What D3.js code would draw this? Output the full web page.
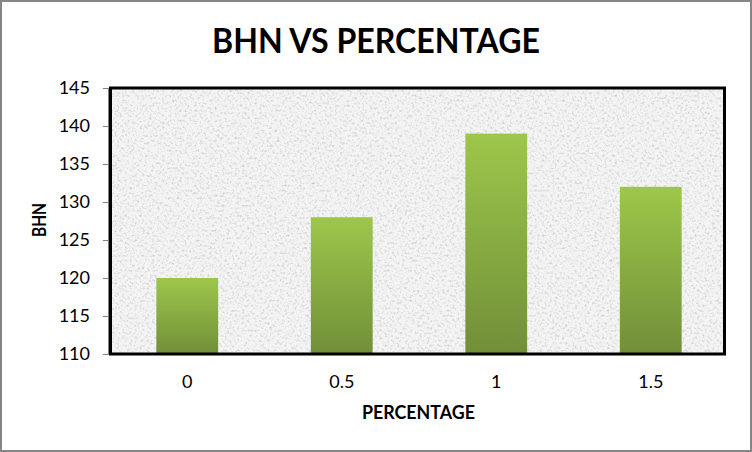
<!DOCTYPE html>
<html><head><meta charset="utf-8">
<script src="https://cdn.jsdelivr.net/npm/d3@7"></script>
<style>body{margin:0;background:#fff}svg{display:block}</style>
</head><body><svg id="c" width="752" height="452"></svg>
<script>
const categories = ["0", "0.5", "1", "1.5"];
const bhnValues = [120, 128, 139, 132];
const yTicks = [110, 115, 120, 125, 130, 135, 140, 145];
const titleText = "BHN VS PERCENTAGE";
const xTitle = "PERCENTAGE";
const yTitle = "BHN";

const svg = d3.select("#c");
const W = 752, H = 452;
const m = {l: 110, r: 724, t: 88, b: 354};
const FONT = "Lato, 'Open Sans', sans-serif";

const defs = svg.append("defs");
const f = defs.append("filter").attr("id","granite").attr("x",0).attr("y",0).attr("width","100%").attr("height","100%");
f.append("feTurbulence").attr("type","fractalNoise").attr("baseFrequency","0.4").attr("numOctaves",3).attr("seed",7).attr("result","n");
f.append("feColorMatrix").attr("in","n").attr("type","matrix")
 .attr("values","0 0 0 0 0  0 0 0 0 0  0 0 0 0 0  -1.8 0 0 0 1.0").attr("result","a");
f.append("feComponentTransfer").attr("in","a").attr("result","a2")
 .append("feFuncA").attr("type","linear").attr("slope",0.6).attr("intercept",-0.03);
f.append("feFlood").attr("flood-color","#808080").attr("result","col");
f.append("feComposite").attr("in","col").attr("in2","a2").attr("operator","in").attr("result","speck");
f.append("feFlood").attr("flood-color","#f4f4f4").attr("result","bg");
f.append("feMerge").call(g=>{g.append("feMergeNode").attr("in","bg");g.append("feMergeNode").attr("in","speck");});

const grad = defs.append("linearGradient").attr("id","barG").attr("x1",0).attr("y1",0).attr("x2",0).attr("y2",1);
grad.append("stop").attr("offset","0%").attr("stop-color","#9dc74b");
grad.append("stop").attr("offset","100%").attr("stop-color","#718f38");

// outer border
svg.append("rect").attr("x",1).attr("y",1).attr("width",W-2).attr("height",H-2)
  .attr("fill","#fff").attr("stroke","#868686").attr("stroke-width",2);

// plot background texture
svg.append("rect").attr("x",m.l).attr("y",m.t).attr("width",m.r-m.l).attr("height",m.b-m.t)
  .attr("fill","#eee").attr("filter","url(#granite)");

const x = d3.scaleBand().domain(categories).range([m.l, 728]).paddingInner(0.6).paddingOuter(0.3);
const y = d3.scaleLinear().domain([110,145]).range([m.b, m.t]);

svg.append("g").selectAll("rect").data(bhnValues).join("rect")
  .attr("x",(d,i)=>x(categories[i])).attr("width",x.bandwidth())
  .attr("y",d=>y(d)).attr("height",d=>m.b-y(d)).attr("fill","url(#barG)");

// frame
svg.append("rect").attr("x",m.l+0.5).attr("y",m.t).attr("width",m.r-m.l).attr("height",m.b-m.t)
  .attr("fill","none").attr("stroke","#000").attr("stroke-width",3);

// y axis
const ya = svg.append("g").attr("transform",`translate(${m.l-2},0)`)
  .call(d3.axisLeft(y).tickValues(yTicks).tickSize(5).tickPadding(13).tickFormat(d3.format("d")));
ya.select(".domain").attr("stroke","#808080");
ya.selectAll(".tick line").attr("stroke","#808080");
ya.selectAll("text").attr("font-size",18).attr("fill","#000").attr("font-family",FONT);

// x axis
const xa = svg.append("g").attr("transform",`translate(0,${m.b+1})`)
  .call(d3.axisBottom(x).tickSize(0).tickPadding(20));
xa.select(".domain").attr("stroke","#808080").attr("d",`M${m.l},0.5H${m.r}`);
xa.selectAll("text").attr("font-size",18).attr("fill","#000").attr("font-family",FONT);

svg.append("text").attr("x",376).attr("y",53).attr("text-anchor","middle").attr("font-family",FONT)
  .attr("font-size",34).attr("font-weight","bold").attr("textLength",328).attr("lengthAdjust","spacingAndGlyphs").text(titleText);
svg.append("text").attr("x",418.5).attr("y",419).attr("text-anchor","middle").attr("font-family",FONT)
  .attr("font-size",18).attr("font-weight","bold").attr("textLength",113).attr("lengthAdjust","spacingAndGlyphs").text(xTitle);
svg.append("text").attr("transform","translate(46,220) rotate(-90)").attr("text-anchor","middle").attr("font-family",FONT)
  .attr("font-size",18).attr("font-weight","bold").attr("textLength",34).attr("lengthAdjust","spacingAndGlyphs").text(yTitle);
</script></body></html>
